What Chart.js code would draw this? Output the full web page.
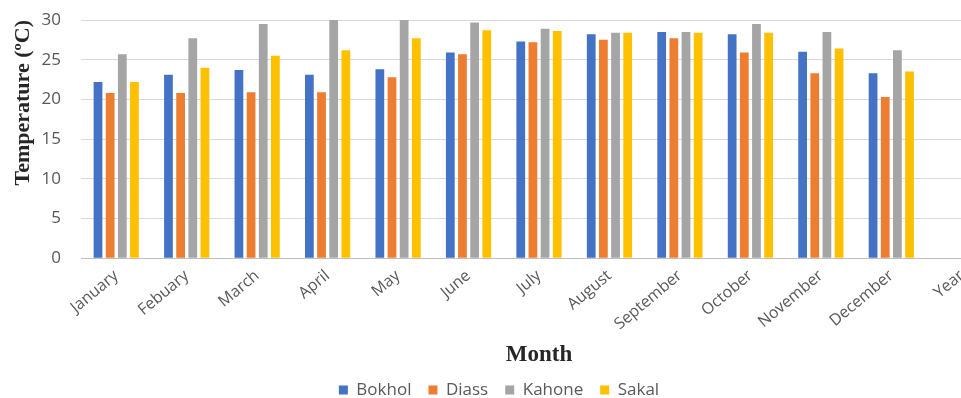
<!DOCTYPE html>
<html>
<head>
<meta charset="utf-8">
<script src="https://cdn.jsdelivr.net/npm/chart.js@4"></script>
<style>
  html,body{margin:0;padding:0;background:#fff;overflow:hidden}
  #wrap{width:961px;height:398px;overflow:hidden;position:relative}
  canvas{position:absolute;left:0;top:0}
</style>
</head>
<body>
<div id="wrap"><canvas id="chart" width="1000" height="398"></canvas></div>
<script>
const months = ["January","Febuary","March","April","May","June","July","August","September","October","November","December","Year"];

const bokhol = [22.2,23.1,23.7,23.1,23.8,25.9,27.3,28.2,28.5,28.2,26.0,23.3,null];
const diass  = [20.8,20.8,20.9,20.9,22.8,25.7,27.2,27.5,27.7,25.9,23.3,20.3,null];
const kahone = [25.7,27.7,29.5,30.6,30.6,29.7,28.9,28.4,28.5,29.5,28.5,26.2,null];
const sakal  = [22.2,24.0,25.5,26.2,27.7,28.7,28.6,28.4,28.4,28.4,26.4,23.5,null];

const yTicks = [0,5,10,15,20,25,30];

const grey = "#595959";
const sans = "'Open Sans', 'Liberation Sans', sans-serif";
const serif = "'Liberation Serif', 'DejaVu Serif', serif";

const mk = (label, data, color) => ({
  label, data, backgroundColor: color, borderWidth: 0,
  categoryPercentage: 0.69, barPercentage: 0.72
});

new Chart(document.getElementById("chart"), {
  type: "bar",
  data: {
    labels: months,
    datasets: [
      mk("Bokhol", bokhol, "#4472C4"),
      mk("Diass", diass, "#ED7D31"),
      mk("Kahone", kahone, "#A5A5A5"),
      mk("Sakal", sakal, "#FFC000")
    ]
  },
  options: {
    responsive: false,
    animation: false,
    devicePixelRatio: 1,
    layout: { padding: { top: 20, left: 1, right: 3, bottom: -10.5 } },
    plugins: {
      tooltip: { enabled: false },
      legend: {
        position: "bottom",
        labels: {
          boxWidth: 9, boxHeight: 9, padding: 17,
          color: grey, font: { family: sans, size: 17 }
        }
      }
    },
    scales: {
      x: {
        grid: { display: false },
        border: { color: "#bfbfbf", width: 1 },
        ticks: {
          color: grey, font: { family: sans, size: 16 },
          minRotation: 40, maxRotation: 40, autoSkip: false, padding: 0
        },
        title: {
          display: true, text: "Month", color: "#262626",
          font: { family: serif, size: 23, weight: "bold" },
          padding: { top: 7, bottom: -4 }
        }
      },
      y: {
        min: 0, max: 30,
        afterBuildTicks: s => { s.ticks = yTicks.map(v => ({ value: v })); },
        // fixed axis width; tick padding should not push the plot down
        afterFit: s => { s.width = 80; s.paddingTop = 0; s.paddingBottom = 0; },
        grid: { color: "#d9d9d9", drawTicks: false },
        border: { display: false },
        ticks: { color: grey, font: { family: sans, size: 17 }, padding: 20 },
        title: {
          display: true, text: "Temperature (ºC)", color: "#262626", align: "end",
          font: { family: serif, size: 22, weight: "bold" },
          padding: { top: 9, bottom: 2 }
        }
      }
    }
  }
});
</script>
</body>
</html>
